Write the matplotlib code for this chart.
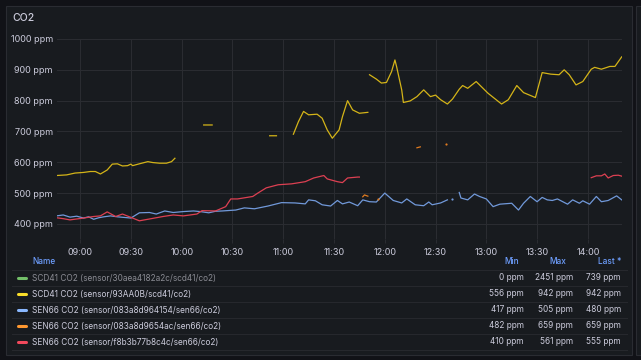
import matplotlib.pyplot as plt
import matplotlib.dates as mdates
import numpy as np
import pandas as pd

plt.rcParams['font.family'] = ['Inter', 'DejaVu Sans']

DAY = "2024-05-14 "
nan = np.nan

# SCD41 CO2 (sensor/93AA0B) - yellow
yellow_t = ["08:46", "08:52", "08:57", "09:02", "09:06", "09:09", "09:12", "09:16", "09:19", "09:22",
            "09:25", "09:28", "09:30", "09:31", "09:35", "09:40", "09:43", "09:47", "09:51", "09:54",
            "09:56", "10:05",
            "10:13", "10:18", "10:30",
            "10:52", "10:56", "11:00",
            "11:06", "11:09", "11:12", "11:15", "11:20", "11:23", "11:26", "11:29", "11:33", "11:35",
            "11:38", "11:41", "11:45", "11:50", "11:50",
            "11:51", "11:55", "11:58", "12:01", "12:04", "12:06", "12:07", "12:10", "12:11", "12:15",
            "12:19", "12:23", "12:27", "12:30", "12:33", "12:37", "12:40", "12:44", "12:46", "12:49",
            "12:54", "13:01", "13:09", "13:13", "13:18", "13:22", "13:29", "13:33", "13:38", "13:43",
            "13:46", "13:49", "13:53", "13:57", "14:02", "14:04", "14:08", "14:13", "14:16", "14:20"]
yellow_v = [557, 559, 565, 567, 570, 570, 562, 575, 594, 595,
            588, 589, 594, 589, 595, 602, 599, 597, 597, 602,
            613, nan,
            721, 721, nan,
            686, 686, nan,
            691, 732, 765, 754, 756, 743, 705, 678, 705, 748,
            800, 770, 759, 762, nan,
            884, 870, 857, 859, 894, 932, 910, 835, 794, 799,
            813, 835, 813, 818, 803, 789, 805, 837, 849, 840,
            862, 824, 789, 803, 849, 826, 810, 891, 886, 884,
            900, 884, 851, 862, 902, 908, 902, 911, 911, 942]

# SEN66 CO2 (sensor/083a8d964154) - blue
blue_t = ["08:46", "08:50", "08:54", "08:58", "09:02", "09:05", "09:08", "09:11", "09:14", "09:18",
          "09:22", "09:26", "09:30", "09:35", "09:41", "09:45", "09:50", "09:55", "10:01", "10:07",
          "10:11", "10:16", "10:20", "10:24", "10:32", "10:37", "10:43", "10:51", "10:59", "11:07",
          "11:13", "11:15", "11:19", "11:23", "11:28", "11:32", "11:35", "11:39", "11:44", "11:47",
          "11:51", "11:55", "12:00", "12:05", "12:10", "12:13", "12:18", "12:23", "12:26", "12:28",
          "12:33", "12:37", "12:38", "12:40", "12:42",
          "12:44", "12:45", "12:49", "12:53", "12:56", "13:00", "13:04", "13:08", "13:15", "13:19",
          "13:22", "13:26", "13:30", "13:33", "13:36", "13:39", "13:42", "13:48", "13:51", "13:55",
          "13:57", "14:01", "14:05", "14:08", "14:12", "14:17", "14:20"]
blue_v = [426, 429, 422, 425, 419, 423, 415, 420, 423, 426,
          423, 421, 419, 436, 437, 432, 442, 437, 440, 442,
          440, 436, 441, 442, 445, 452, 449, 458, 469, 468,
          465, 478, 475, 462, 458, 476, 465, 471, 459, 478,
          472, 471, 500, 476, 468, 481, 462, 459, 471, 462,
          468, 478, nan, 481, nan,
          502, 484, 478, 497, 489, 481, 456, 464, 467, 445,
          467, 489, 472, 486, 478, 476, 481, 464, 478, 467,
          475, 464, 489, 472, 476, 491, 478]

# SEN66 CO2 (sensor/083a8d9654ac) - orange
orange_t = ["11:47", "11:48", "11:50", "11:52", "11:56", "12:00", "12:19", "12:21", "12:25", "12:36"]
orange_v = [488, 494, 490, nan, 482, nan, 647, 650, nan, 659]

# SEN66 CO2 (sensor/f8b3b77b8c4c) - red
red_t = ["08:46", "08:50", "08:54", "08:58", "09:02", "09:08", "09:12", "09:16", "09:21", "09:25",
         "09:31", "09:35", "09:41", "09:49", "09:55", "10:01", "10:09", "10:12", "10:20", "10:26",
         "10:29", "10:33", "10:42", "10:45", "10:50", "10:57", "11:05", "11:13", "11:18", "11:24",
         "11:26", "11:32", "11:35", "11:38", "11:44", "11:45", "12:00",
         "14:02", "14:05", "14:08", "14:10", "14:12", "14:15", "14:18", "14:20"]
red_v = [420, 417, 413, 416, 419, 424, 426, 439, 424, 432,
         419, 410, 416, 424, 429, 426, 432, 443, 442, 456,
         481, 481, 489, 500, 517, 527, 530, 537, 549, 557,
         546, 537, 534, 549, 552, 552, nan,
         550, 556, 556, 562, 549, 557, 558, 555]

y_ticks = [400, 500, 600, 700, 800, 900, 1000]

legend_names = ["SCD41 CO2 (sensor/30aea4182a2c/scd41/co2)",
                "SCD41 CO2 (sensor/93AA0B/scd41/co2)",
                "SEN66 CO2 (sensor/083a8d964154/sen66/co2)",
                "SEN66 CO2 (sensor/083a8d9654ac/sen66/co2)",
                "SEN66 CO2 (sensor/f8b3b77b8c4c/sen66/co2)"]
legend_colors = ["#73BF69", "#FADE2A", "#8AB8FF", "#FF9830", "#F2495C"]
stat_min = ["0 ppm", "556 ppm", "417 ppm", "482 ppm", "410 ppm"]
stat_max = ["2451 ppm", "942 ppm", "505 ppm", "659 ppm", "561 ppm"]
stat_last = ["739 ppm", "942 ppm", "480 ppm", "659 ppm", "555 ppm"]

W, H = 641, 360
BG = "#111217"
PANEL = "#181b1f"
BORDER = "#2a2c32"
GRID = "#2a2c31"
TEXT = "#ccccdc"


def fx(px):
    return px / W


def fy(py):
    return 1 - py / H


fig = plt.figure(figsize=(W / 100, H / 100), dpi=100)
fig.patch.set_facecolor(BG)

# panel background
fig.patches.append(plt.Rectangle((fx(6), fy(355)), fx(626), 349 / H, transform=fig.transFigure,
                                 facecolor=PANEL, edgecolor=BORDER, lw=0.8, zorder=-5))
fig.patches.append(plt.Rectangle((fx(636), fy(355)), fx(20), 349 / H, transform=fig.transFigure,
                                 facecolor=PANEL, edgecolor=BORDER, lw=0.8, zorder=-5))
fig.text(fx(12), fy(18), "CO2", color=TEXT, fontsize=7.5, fontweight='medium', va='center', ha='left')

ax = fig.add_axes([fx(57), fy(239), fx(565), 200 / H], zorder=2)
ax.set_facecolor(PANEL)


def draw(times, values, color):
    t = pd.to_datetime([DAY + s for s in times])
    v = np.array(values, dtype=float)
    ax.plot(t, v, color=color, lw=0.9, solid_joinstyle='round', zorder=3)
    ok = ~np.isnan(v)
    prev_nan = np.r_[True, ~ok[:-1]]
    next_nan = np.r_[~ok[1:], True]
    single = ok & prev_nan & next_nan
    if single.any():
        ax.plot(t[single], v[single], 'o', ms=1.6, color=color, mew=0, zorder=3)


draw(yellow_t, yellow_v, "#D4B418")
draw(blue_t, blue_v, "#7199DA")
draw(orange_t, orange_v, "#E07B1F")
draw(red_t, red_v, "#DD4052")

ax.set_xlim(pd.Timestamp(DAY + "08:46:20"), pd.Timestamp(DAY + "14:20:10"))
ax.set_ylim(351, 1000)
ax.set_yticks(y_ticks)
ax.set_yticklabels([f"{v} ppm" for v in y_ticks])
ax.xaxis.set_major_locator(mdates.MinuteLocator(byminute=[0, 30]))
ax.xaxis.set_major_formatter(mdates.DateFormatter('%H:%M'))
ax.grid(True, color=GRID, lw=0.8)
ax.set_axisbelow(True)
for s in ax.spines.values():
    s.set_visible(False)
ax.tick_params(axis='y', length=0, pad=3, labelsize=6.5, labelcolor=TEXT)
ax.tick_params(axis='x', length=3, width=0.8, color=GRID, pad=3.5, labelsize=6.5, labelcolor=TEXT)

# legend table
fs = 5.95
header_y = 262
fig.text(fx(32), fy(header_y), "Name", color="#6E9FFF", fontsize=fs, va='center', fontweight='medium')
fig.text(fx(519), fy(header_y), "Min", color="#6E9FFF", fontsize=fs, va='center', ha='right', fontweight='medium')
fig.text(fx(566), fy(header_y), "Max", color="#6E9FFF", fontsize=fs, va='center', ha='right', fontweight='medium')
fig.text(fx(621), fy(header_y), "Last *", color="#6E9FFF", fontsize=fs, va='center', ha='right', fontweight='medium')

for sep in [270, 286, 302, 318, 334, 349.5]:
    fig.add_artist(plt.Line2D([fx(12), fx(627)], [fy(sep), fy(sep)], color="#26282d", lw=0.8))

for i, name in enumerate(legend_names):
    yy = 278 + i * 16
    fig.add_artist(plt.Line2D([fx(18), fx(26)], [fy(yy), fy(yy)], color=legend_colors[i], lw=2.2,
                              solid_capstyle='round'))
    name_color = "#8a8b93" if i == 0 else TEXT
    fig.text(fx(32), fy(yy), name, color=name_color, fontsize=fs, va='center', ha='left')
    fig.text(fx(524), fy(yy), stat_min[i], color=TEXT, fontsize=fs, va='center', ha='right')
    fig.text(fx(573), fy(yy), stat_max[i], color=TEXT, fontsize=fs, va='center', ha='right')
    fig.text(fx(621), fy(yy), stat_last[i], color=TEXT, fontsize=fs, va='center', ha='right')

fig.savefig("out.png", dpi=100, facecolor=BG)
